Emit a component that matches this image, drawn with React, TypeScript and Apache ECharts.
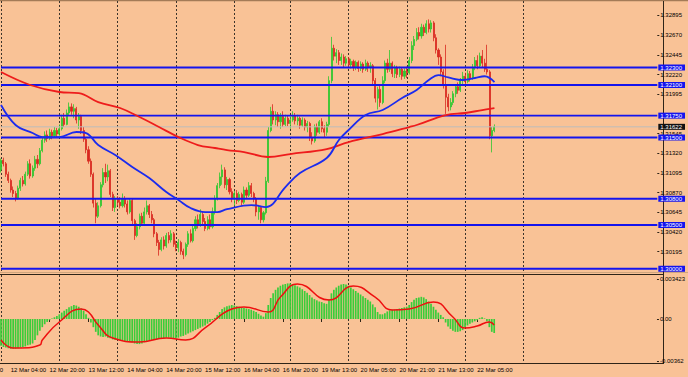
import { useEffect, useRef } from "react";
import * as echarts from "echarts";

// ---- axes ----
const N_SLOTS = 271; // hourly slots incl. empty future area
const timeLabels = [
  "12 Mar 04:00", "12 Mar 20:00", "13 Mar 12:00", "14 Mar 04:00", "14 Mar 20:00",
  "15 Mar 12:00", "16 Mar 04:00", "16 Mar 20:00", "19 Mar 13:00", "20 Mar 05:00",
  "20 Mar 21:00", "21 Mar 13:00", "22 Mar 05:00",
];
const timeLabelIdx = [4, 20, 36, 52, 68, 84, 100, 116, 132, 148, 164, 180, 196];
const prevLabel = "9 Mar 11:00";
const prevLabelIdx = -12;
const daySeparatorIdx = [0, 24, 48, 72, 96, 119, 143, 167, 191, 215];
const priceTicks = [
  1.32895, 1.3267, 1.32445, 1.3222, 1.31995, 1.31545, 1.3132, 1.31095,
  1.3087, 1.30645, 1.3042, 1.30195,
];
const levels = [1.323, 1.321, 1.3175, 1.315, 1.308, 1.305, 1.3];
const bid = 1.31622;
const macdTicks = [0.003423, 0, -0.00362];
const macdTickText = ["0.003423", "0.00", "-0.00362"];

// ---- candles: [open, close, low, high] in points above 1.30000 ----
const candles = [
  [1130,1240,1100,1260],[1240,1200,1170,1270],[1200,1080,1050,1220],[1080,1010,980,1110],
  [1010,900,870,1030],[900,860,820,940],[860,800,770,890],[800,920,790,950],
  [920,1010,890,1040],[1010,970,940,1060],[970,1080,950,1110],[1080,1200,1060,1230],
  [1200,1060,1030,1250],[1060,1150,1040,1180],[1150,1250,1120,1290],[1250,1200,1150,1300],
  [1200,1350,1180,1380],[1350,1470,1330,1500],[1470,1530,1440,1570],[1530,1490,1450,1580],
  [1490,1560,1470,1600],[1560,1520,1480,1590],[1520,1580,1500,1620],[1580,1540,1500,1610],
  [1540,1600,1520,1650],[1600,1720,1580,1760],[1720,1650,1620,1780],[1650,1780,1640,1820],
  [1780,1850,1750,1900],[1850,1800,1760,1890],[1800,1830,1720,1880],[1830,1700,1660,1850],
  [1700,1740,1600,1780],[1740,1580,1540,1760],[1580,1480,1450,1620],[1480,1360,1320,1500],
  [1360,1230,1200,1400],[1230,1080,1050,1260],[1080,750,700,1100],[750,600,520,800],
  [600,720,580,760],[720,960,700,990],[960,1100,930,1150],[1100,1050,980,1200],
  [1050,1120,1000,1190],[1120,850,820,1140],[850,700,660,880],[700,800,650,830],
  [800,760,720,830],[760,720,690,820],[720,800,700,860],[800,740,700,830],
  [740,650,620,780],[650,780,630,800],[780,550,500,800],[550,380,330,570],
  [380,480,360,520],[480,600,450,630],[600,520,490,640],[520,650,500,700],
  [650,720,620,780],[720,620,580,740],[620,560,520,660],[560,400,360,580],
  [400,300,260,420],[300,220,150,330],[220,330,200,360],[330,260,220,370],
  [260,380,240,410],[380,330,290,420],[330,400,300,440],[400,280,250,420],
  [280,240,200,320],[240,300,190,340],[300,200,160,320],[200,160,110,230],
  [160,280,140,300],[280,400,250,430],[400,320,300,450],[320,460,300,500],
  [460,560,430,600],[560,500,460,620],[500,620,480,680],[620,540,500,650],
  [540,460,430,580],[460,560,440,600],[560,480,450,620],[480,650,460,700],
  [650,800,620,840],[800,950,780,980],[950,1050,920,1100],[1050,1130,960,1190],
  [1130,960,920,1160],[960,1020,900,1050],[1020,880,850,1040],[880,800,760,920],
  [800,860,720,890],[860,780,740,900],[780,850,760,880],[850,760,720,870],
  [760,900,740,940],[900,840,800,930],[840,950,820,990],[950,860,820,980],
  [860,800,760,880],[800,650,600,820],[650,700,560,730],[700,560,520,720],
  [560,640,530,660],[640,1000,620,1050],[1000,1580,980,1620],[1580,1800,1560,1850],
  [1800,1700,1650,1880],[1700,1760,1640,1800],[1760,1680,1620,1790],[1680,1740,1600,1780],
  [1740,1650,1620,1800],[1650,1720,1630,1760],[1720,1660,1630,1750],[1660,1700,1600,1740],
  [1700,1750,1680,1800],[1750,1690,1650,1780],[1690,1720,1640,1760],[1720,1640,1600,1740],
  [1640,1700,1620,1730],[1700,1620,1580,1720],[1620,1660,1560,1690],[1660,1500,1460,1680],
  [1500,1460,1420,1560],[1460,1620,1440,1650],[1620,1560,1520,1660],[1560,1680,1540,1700],
  [1680,1600,1560,1720],[1600,1560,1500,1640],[1560,1650,1520,1680],[1650,2150,1620,2200],
  [2150,2520,2120,2650],[2520,2430,2380,2560],[2430,2470,2350,2510],[2470,2380,2330,2500],
  [2380,2420,2330,2460],[2420,2350,2300,2450],[2350,2400,2320,2430],[2400,2330,2290,2420],
  [2330,2370,2290,2400],[2370,2300,2260,2390],[2300,2360,2270,2380],[2360,2290,2250,2380],
  [2290,2340,2260,2370],[2340,2280,2240,2360],[2280,2350,2260,2390],[2350,2300,2250,2370],
  [2300,2320,2240,2360],[2320,2150,2100,2340],[2150,1950,1900,2180],[1950,2050,1820,2080],
  [2050,1900,1850,2100],[1900,2150,1880,2200],[2150,2350,2120,2380],[2350,2280,2240,2400],
  [2280,2350,2250,2500],[2350,2230,2190,2370],[2230,2300,2180,2330],[2300,2220,2180,2320],
  [2220,2280,2190,2310],[2280,2200,2160,2300],[2200,2260,2170,2290],[2260,2240,2180,2310],
  [2240,2380,2220,2420],[2380,2550,2350,2600],[2550,2620,2500,2660],[2620,2700,2600,2750],
  [2700,2660,2620,2760],[2660,2760,2630,2800],[2760,2700,2660,2790],[2700,2800,2680,2840],
  [2800,2740,2700,2850],[2740,2810,2700,2840],[2810,2640,2600,2830],[2640,2500,2460,2680],
  [2500,2420,2330,2520],[2420,2250,2200,2450],[2250,2100,2060,2280],[2100,1960,1770,2560],
  [1960,1850,1800,2000],[1850,1900,1810,1950],[1900,2000,1870,2030],[2000,2080,1960,2110],
  [2080,2040,2000,2130],[2040,2150,2020,2180],[2150,2200,2100,2250],[2200,2140,2100,2240],
  [2140,2230,2120,2270],[2230,2180,2140,2260],[2180,2300,2160,2340],[2300,2380,2270,2420],
  [2380,2320,2280,2440],[2320,2430,2300,2470],[2430,2350,2300,2500],[2350,2280,2250,2400],
  [2280,2250,2220,2560],[2250,1520,1480,2270],[1520,1580,1330,1620],[1580,1622,1560,1650],
];

// ---- moving averages: [bar index, points above 1.30000] ----
const maFast = [
  [0,1871],[6,1643],[13,1551],[17,1505],[24,1505],[31,1563],[35,1551],[40,1414],
  [47,1300],[54,1163],[61,1037],[68,877],[73,786],[78,694],[84,648],[89,648],
  [93,682],[103,728],[109,705],[117,934],[123,1094],[134,1266],[139,1471],[143,1586],
  [150,1757],[157,1814],[165,1951],[171,2043],[176,2157],[180,2214],[184,2186],
  [190,2157],[195,2180],[199,2200],[203,2134],
];
const maSlow = [
  [0,2248],[12,2100],[24,2020],[32,2008],[40,1905],[49,1837],[57,1734],[65,1620],
  [73,1505],[81,1414],[88,1380],[93,1357],[100,1334],[110,1277],[119,1311],[134,1368],
  [143,1448],[157,1540],[168,1620],[171,1643],[183,1757],[191,1780],[198,1814],[203,1837],
];

// ---- MACD (millionths) ----
const macdHist = [
  -2300,-2400,-2450,-2500,-2550,-2550,-2550,-2500,-2450,-2400,-2350,-2250,-2200,-2100,
  -1800,-1400,-1000,-700,-450,-250,-100,
  50,150,250,400,550,700,850,1000,1100,1200,
  1150,1050,900,700,400,100,-300,-700,-1100,-1400,-1500,-1550,-1500,-1600,
  -1650,-1750,-1800,-1800,-1850,-1850,-1900,-1900,-1950,-2000,-2100,-2150,-2150,-2100,
  -2000,-1900,-1850,-1800,-1800,-1750,-1700,-1650,-1650,-1600,-1600,-1600,-1650,-1650,-1600,
  -1500,-1450,-1350,-1250,-1150,-1050,-950,-850,-750,-650,-550,-400,-250,-100,
  100,350,600,850,1000,1100,1150,1200,
  1150,1100,1050,1000,950,900,850,800,700,600,450,300,200,
  500,1200,1800,2200,2500,2700,
  2850,2950,3000,3050,3050,3000,2900,
  2800,2700,2550,2400,2250,2050,1850,1700,1600,1500,1450,1350,1300,
  1700,2200,2500,
  2700,2850,2950,3000,2950,
  2850,2700,2550,2400,2250,2100,1950,1800,1650,1500,1250,1000,
  600,400,400,500,
  650,750,800,800,850,900,950,1000,1050,
  1200,1450,1650,1800,1850,1900,1850,
  1700,1500,1300,1050,800,550,350,150,
  -300,-650,-850,-1000,-1100,-1100,-1050,-950,
  -700,-550,-400,-300,-200,-100,100,150,50,
  -200,-700,-1100,-1200,
];
const macdSignal = [
  [0,-1798],[5,-2482],[8,-2482],[16,-2226],[17,-1798],[24,-257],[33,856],[36,599],
  [40,-514],[46,-1626],[57,-1969],[68,-1626],[76,-1798],[84,-770],[95,856],[100,1027],
  [110,599],[115,1883],[122,2996],[135,1626],[145,2825],[154,1883],[161,770],[168,856],
  [178,1455],[186,171],[191,-770],[196,-599],[201,-257],[203,-514],
];

const BG = "#F9C296";
const FRAME = "#2E2418";
const FONT = "Liberation Sans";
const PLOT_LEFT = 1;
const PLOT_W = 662;

export default function App() {
  const ref = useRef<HTMLDivElement>(null);

  useEffect(() => {
    document.body.style.margin = "0";
    if (!ref.current) return;
    const chart = echarts.init(ref.current, null, { renderer: "svg" });

    const cats = Array.from({ length: N_SLOTS }, (_, i) => String(i));
    const labelMap: Record<number, string> = {};
    timeLabelIdx.forEach((ix, k) => (labelMap[ix] = timeLabels[k]));
    const isLabel = (i: number) => labelMap[i] !== undefined;
    const isDay = (i: number) => daySeparatorIdx.includes(i);
    const toPrice = (p: number) => +(1.3 + p / 100000).toFixed(5);
    const step = PLOT_W / (N_SLOTS - 1);

    const gridSplit = {
      show: true,
      interval: (i: number) => isDay(i),
      lineStyle: { color: "#3b332b", type: [2, 2], width: 1 },
    };

    const hLine = (v: number, color: string, width: number) => ({
      type: "line", xAxisIndex: 0, yAxisIndex: 0, showSymbol: false, silent: true, z: 3,
      data: [[0, v], [N_SLOTS - 1, v]],
      lineStyle: { color, width },
    });

    const option: any = {
      animation: false,
      backgroundColor: BG,
      grid: [
        { left: PLOT_LEFT, top: 1, width: PLOT_W, height: 271 },
        { left: PLOT_LEFT, top: 275, width: PLOT_W, height: 88 },
      ],
      xAxis: [
        {
          type: "category", gridIndex: 0, data: cats, boundaryGap: false,
          axisLine: { show: false }, axisTick: { show: false }, axisLabel: { show: false },
          splitLine: gridSplit,
        },
        {
          type: "category", gridIndex: 1, data: cats, boundaryGap: false,
          axisLine: { show: false },
          axisTick: { show: true, interval: (i: number) => isLabel(i), length: 3, lineStyle: { color: FRAME } },
          axisLabel: {
            interval: (i: number) => isLabel(i),
            formatter: (v: string) => labelMap[Number(v)] ?? "",
            fontSize: 6, color: "#000", align: "left", margin: 4, fontFamily: FONT,
          },
          splitLine: gridSplit,
        },
      ],
      yAxis: [
        {
          type: "value", gridIndex: 0, position: "right", min: 1.29963, max: 1.3306,
          axisLine: { show: false },
          axisTick: { show: true, customValues: priceTicks, length: 2, lineStyle: { color: FRAME } },
          axisLabel: {
            customValues: priceTicks, formatter: (v: number) => v.toFixed(5),
            fontSize: 6, color: "#000", margin: 3, fontFamily: FONT,
          },
          splitLine: { show: false },
        },
        {
          type: "value", gridIndex: 0, position: "right", min: 1.29963, max: 1.3306, z: 10,
          axisLine: { show: false }, axisTick: { show: false }, splitLine: { show: false },
          axisLabel: {
            customValues: [...levels, bid],
            margin: 1, fontFamily: FONT,
            formatter: (v: number) =>
              Math.abs(v - bid) < 1e-7 ? `{k|${v.toFixed(5)}}` : `{b|${v.toFixed(5)}}`,
            rich: {
              b: { backgroundColor: "#1414EE", color: "#fff", fontSize: 6, lineHeight: 6, padding: [0, 3, 0, 2], fontFamily: FONT },
              k: { backgroundColor: "#111", color: "#fff", fontSize: 6, lineHeight: 6, padding: [0, 3, 0, 2], fontFamily: FONT },
            },
          },
        },
        {
          type: "value", gridIndex: 1, position: "right", min: -0.00377, max: 0.00377,
          axisLine: { show: false },
          axisTick: { show: true, customValues: macdTicks, length: 2, lineStyle: { color: FRAME } },
          axisLabel: {
            customValues: macdTicks,
            formatter: (v: number) => {
              const k = macdTicks.findIndex((t) => Math.abs(t - v) < 1e-9);
              return k >= 0 ? macdTickText[k] : "";
            },
            fontSize: 6, color: "#000", margin: 3, fontFamily: FONT,
          },
          splitLine: { show: false },
        },
      ],
      series: [
        hLine(bid, "#BDBDBD", 1),
        {
          type: "candlestick", xAxisIndex: 0, yAxisIndex: 0, z: 2,
          data: candles.map((c) => c.map(toPrice)),
          barWidth: 1.6,
          itemStyle: {
            color: "#2FC62F", color0: "#D82820",
            borderColor: "#2FC62F", borderColor0: "#D82820", borderWidth: 0.8,
          },
        },
        {
          type: "line", xAxisIndex: 0, yAxisIndex: 0, smooth: 0.4, showSymbol: false, z: 4,
          data: maSlow.map(([i, p]) => [i, toPrice(p)]),
          lineStyle: { color: "#EE1C1C", width: 1.8 },
        },
        {
          type: "line", xAxisIndex: 0, yAxisIndex: 0, smooth: 0.4, showSymbol: false, z: 4,
          data: maFast.map(([i, p]) => [i, toPrice(p)]),
          lineStyle: { color: "#1B2BEE", width: 1.8 },
        },
        ...levels.map((v) => hLine(v, "#1414EE", 1.8)),
        {
          type: "bar", xAxisIndex: 1, yAxisIndex: 2,
          data: macdHist.map((v) => v / 1e6),
          barWidth: 1.7,
          itemStyle: { color: "#3ACD3A" },
        },
        {
          type: "line", xAxisIndex: 1, yAxisIndex: 2, smooth: 0.5, showSymbol: false,
          data: macdSignal.map(([i, v]) => [i, v / 1e6]),
          lineStyle: { color: "#EE1010", width: 1.5 },
        },
      ],
      graphic: [
        { type: "line", shape: { x1: 0, y1: 0.5, x2: 688, y2: 0.5 }, style: { stroke: "#A47B57", lineWidth: 1.5 } },
        { type: "line", shape: { x1: 0, y1: 272.5, x2: 688, y2: 272.5 }, style: { stroke: "#CFA57D", lineWidth: 1 } },
        { type: "line", shape: { x1: 0, y1: 274.5, x2: 664, y2: 274.5 }, style: { stroke: FRAME, lineWidth: 1 } },
        { type: "line", shape: { x1: 0, y1: 363.5, x2: 664, y2: 363.5 }, style: { stroke: FRAME, lineWidth: 1 } },
        { type: "line", shape: { x1: 663.5, y1: 1, x2: 663.5, y2: 364 }, style: { stroke: FRAME, lineWidth: 1 } },
        {
          type: "text", x: PLOT_LEFT + prevLabelIdx * step, y: 367,
          style: { text: prevLabel, fontSize: 6, fill: "#000", fontFamily: FONT, align: "left", verticalAlign: "top" },
        },
      ],
    };

    chart.setOption(option);
    return () => chart.dispose();
  }, []);

  return (
    <div
      ref={ref}
      style={{ position: "absolute", left: 0, top: 0, width: 688, height: 377 }}
    />
  );
}
